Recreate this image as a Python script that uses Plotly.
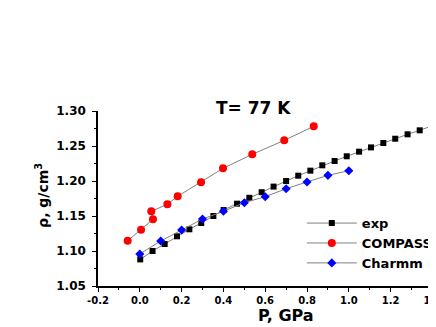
import plotly.graph_objects as go

# ---- data ----
exp_P = [0.002, 0.061, 0.119, 0.178, 0.237, 0.294, 0.352, 0.401, 0.465, 0.524, 0.583,
         0.640, 0.700, 0.758, 0.816, 0.873, 0.932, 0.990, 1.049, 1.106, 1.165, 1.222,
         1.281, 1.339, 1.396]
exp_rho = [1.088, 1.100, 1.110, 1.121, 1.131, 1.140, 1.150, 1.1586, 1.1676, 1.176, 1.184,
           1.192, 1.200, 1.2076, 1.2148, 1.2224, 1.2286, 1.2353, 1.2419, 1.248, 1.2543,
           1.2604, 1.2667, 1.2724, 1.2786]

compass_P = [-0.058, 0.006, 0.063, 0.055, 0.132, 0.181, 0.293, 0.398, 0.538, 0.691, 0.832]
compass_rho = [1.1147, 1.1304, 1.1452, 1.1567, 1.1667, 1.1781, 1.1981, 1.2181, 1.2381,
               1.2581, 1.2781]

charmm_P = [0.0, 0.1, 0.2, 0.3, 0.4, 0.5, 0.6, 0.7, 0.8, 0.9, 1.0]
charmm_rho = [1.0957, 1.1143, 1.130, 1.1457, 1.1567, 1.169, 1.1776, 1.189, 1.1986, 1.2081,
              1.2147]

x_tickvals = [-0.2, 0.0, 0.2, 0.4, 0.6, 0.8, 1.0, 1.2, 1.4]
x_ticktext = ["-0.2", "0.0", "0.2", "0.4", "0.6", "0.8", "1.0", "1.2", "1.4"]
y_tickvals = [1.05, 1.10, 1.15, 1.20, 1.25, 1.30]
y_ticktext = ["1.05", "1.10", "1.15", "1.20", "1.25", "1.30"]

FONT = "DejaVu Sans"
LINE = dict(color="#808080", width=1)

fig = go.Figure()
fig.add_trace(go.Scatter(x=exp_P, y=exp_rho, mode="lines+markers", name="exp",
                         line=LINE, marker=dict(symbol="square", size=6, color="black")))
fig.add_trace(go.Scatter(x=compass_P, y=compass_rho, mode="lines+markers", name="COMPASS",
                         line=LINE, marker=dict(symbol="circle", size=8, color="red")))
fig.add_trace(go.Scatter(x=charmm_P, y=charmm_rho, mode="lines+markers", name="Charmm",
                         line=LINE, marker=dict(symbol="diamond", size=7, color="blue")))

fig.update_layout(
    width=428, height=319,
    margin=dict(l=90, r=0, t=103, b=41, autoexpand=False),
    paper_bgcolor="white", plot_bgcolor="white",
    showlegend=True,
    legend=dict(x=0.603, y=0.445, xanchor="left", yanchor="top",
                bgcolor="rgba(0,0,0,0)", itemwidth=50, tracegroupgap=0,
                font=dict(family=FONT, size=13, color="black", weight="bold")),
    xaxis=dict(range=[-0.2, 1.417], tickvals=x_tickvals, ticktext=x_ticktext,
               showline=True, linecolor="black", linewidth=1.5, mirror=False,
               ticks="outside", ticklen=4, tickwidth=1, tickcolor="black",
               ticklabeloverflow="allow",
               minor=dict(dtick=0.1, tick0=-0.2, ticks="outside", ticklen=2, tickcolor="black"),
               showgrid=False, zeroline=False,
               tickfont=dict(family=FONT, size=10, color="black", weight="bold")),
    yaxis=dict(range=[1.05, 1.30], tickvals=y_tickvals, ticktext=y_ticktext,
               showline=True, linecolor="black", linewidth=1.5, mirror=False,
               ticks="outside", ticklen=4, tickwidth=1, tickcolor="black",
               ticklabelstandoff=4,
               minor=dict(dtick=0.025, tick0=1.05, ticks="outside", ticklen=2, tickcolor="black"),
               showgrid=False, zeroline=False,
               tickfont=dict(family=FONT, size=12, color="black", weight="bold")),
    annotations=[
        dict(text="T= 77 K", x=0.4615, y=1.017, xref="paper", yref="paper",
             xanchor="center", yanchor="middle", showarrow=False,
             font=dict(family=FONT, size=17, color="black", weight="bold")),
        dict(text="P, GPa", x=0.556, y=-0.168, xref="paper", yref="paper",
             xanchor="center", yanchor="middle", showarrow=False,
             font=dict(family=FONT, size=16, color="black", weight="bold")),
        dict(text="ρ, g/cm<sup>3</sup>", x=-0.166, y=0.52, xref="paper", yref="paper",
             xanchor="center", yanchor="middle", showarrow=False, textangle=-90,
             font=dict(family=FONT, size=14, color="black", weight="bold")),
    ],
)

fig.write_html("out.html")
